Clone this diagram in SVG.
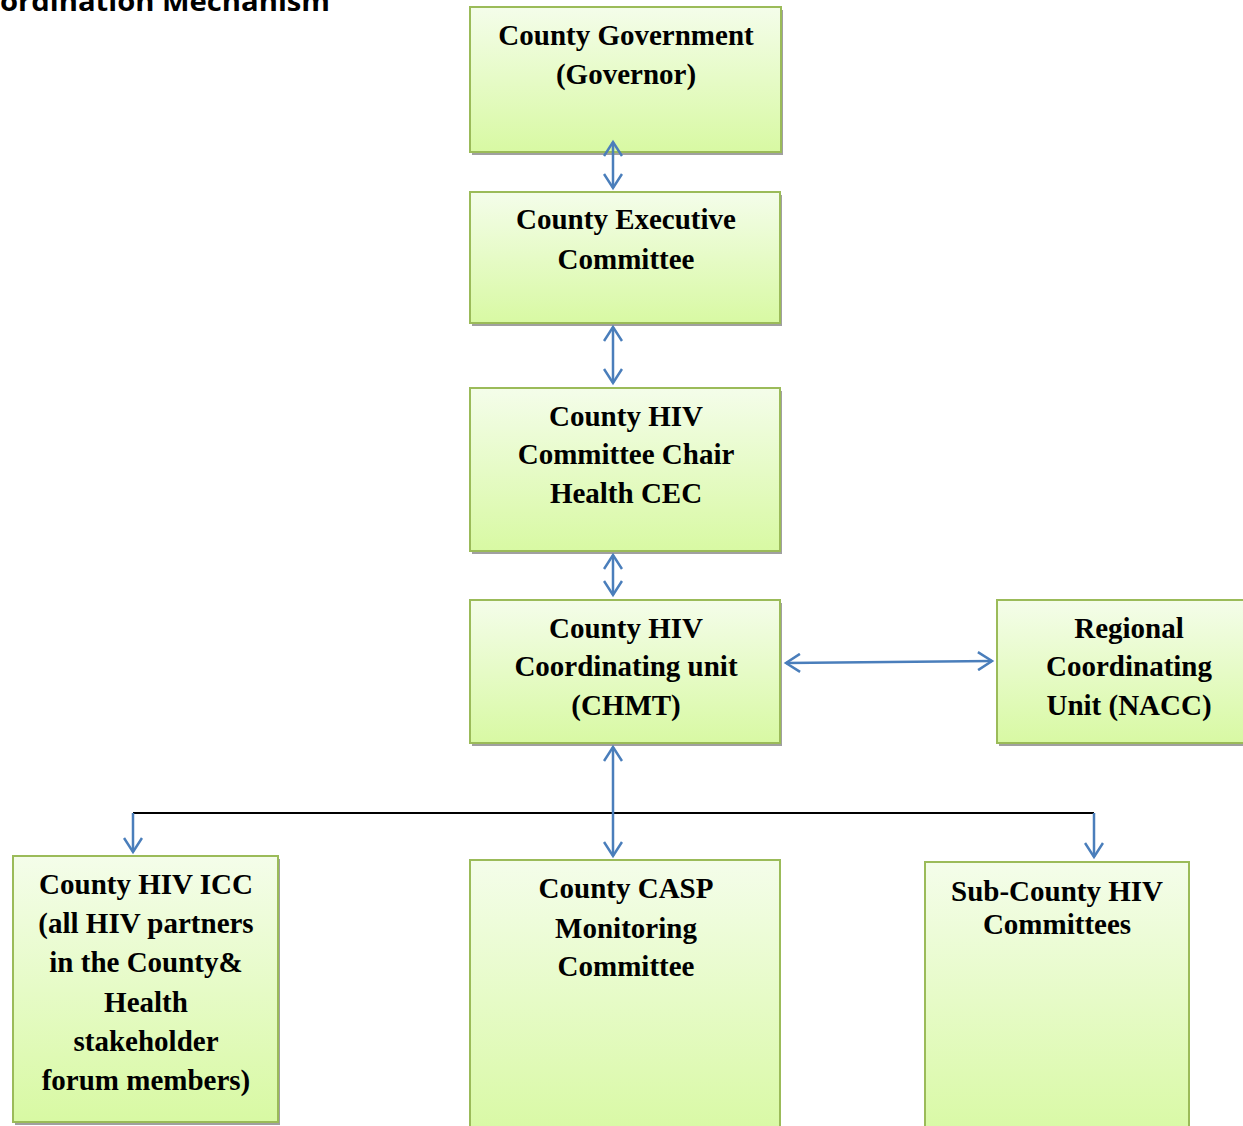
<svg xmlns="http://www.w3.org/2000/svg" width="1243" height="1126" viewBox="0 0 1243 1126">
<defs>
<linearGradient id="g" x1="0" y1="0" x2="0" y2="1">
<stop offset="0" stop-color="#f4fdea"/>
<stop offset="1" stop-color="#d8f9a3"/>
</linearGradient>
<marker id="ah" viewBox="0 0 20 20" refX="17" refY="10" markerWidth="20" markerHeight="20" markerUnits="userSpaceOnUse" orient="auto-start-reverse">
<path d="M3,1 L17,10 L3,19" fill="none" stroke="#4a7ebb" stroke-width="2.5"/>
</marker>
<style>
.box{fill:url(#g);stroke:#9bbb59;stroke-width:2}
.sh{fill:#a0a0a0}
.t{font-family:"Liberation Serif","Times New Roman",serif;font-weight:bold;font-size:29px;fill:#000;text-anchor:middle}
.c{stroke:#4a7ebb;stroke-width:2.5;fill:none}
.k{stroke:#000;stroke-width:2;fill:none}
</style>
</defs>
<rect width="1243" height="1126" fill="#fff"/>
<text x="0" y="11" font-family="'Open Sans','Noto Sans',sans-serif" font-weight="bold" font-size="27" textLength="330" lengthAdjust="spacingAndGlyphs">ordination Mechanism</text>

<g id="n1"><rect class="sh" x="472" y="10" width="311" height="145"/><rect class="box" x="470" y="7" width="311" height="145"/>
<text class="t" x="626" y="45">County Government</text><text class="t" x="626" y="84">(Governor)</text></g>

<g id="n2"><rect class="sh" x="472" y="195" width="310" height="131"/><rect class="box" x="470" y="192" width="310" height="131"/>
<text class="t" x="626" y="229">County Executive</text><text class="t" x="626" y="269">Committee</text></g>

<g id="n3"><rect class="sh" x="472" y="391" width="310" height="163"/><rect class="box" x="470" y="388" width="310" height="163"/>
<text class="t" x="626" y="426">County HIV</text><text class="t" x="626" y="464">Committee Chair</text><text class="t" x="626" y="503">Health CEC</text></g>

<g id="n4"><rect class="sh" x="472" y="603" width="310" height="143"/><rect class="box" x="470" y="600" width="310" height="143"/>
<text class="t" x="626" y="638">County HIV</text><text class="t" x="626" y="676">Coordinating unit</text><text class="t" x="626" y="715">(CHMT)</text></g>

<g id="n5"><rect class="sh" x="999" y="603" width="250" height="143"/><rect class="box" x="997" y="600" width="250" height="143"/>
<text class="t" x="1129" y="638">Regional</text><text class="t" x="1129" y="676">Coordinating</text><text class="t" x="1129" y="715">Unit (NACC)</text></g>

<g id="n6"><rect class="sh" x="15" y="859" width="265" height="266"/><rect class="box" x="13" y="856" width="265" height="266"/>
<text class="t" x="146" y="894">County HIV ICC</text><text class="t" x="146" y="933">(all HIV partners</text><text class="t" x="146" y="972">in the County&amp;</text><text class="t" x="146" y="1012">Health</text><text class="t" x="146" y="1051">stakeholder</text><text class="t" x="146" y="1090">forum members)</text></g>

<g id="n7"><rect class="box" x="470" y="860" width="310" height="280"/>
<text class="t" x="626" y="898">County CASP</text><text class="t" x="626" y="938">Monitoring</text><text class="t" x="626" y="976">Committee</text></g>

<g id="n8"><rect class="box" x="925" y="862" width="264" height="280"/>
<text class="t" x="1057" y="901">Sub-County HIV</text><text class="t" x="1057" y="934">Committees</text></g>

<g id="connectors">
<line class="c" x1="613" y1="142" x2="613" y2="188" marker-start="url(#ah)" marker-end="url(#ah)"/>
<line class="c" x1="613" y1="327" x2="613" y2="383" marker-start="url(#ah)" marker-end="url(#ah)"/>
<line class="c" x1="613" y1="555" x2="613" y2="595" marker-start="url(#ah)" marker-end="url(#ah)"/>
<line class="c" x1="786" y1="663" x2="992" y2="661" marker-start="url(#ah)" marker-end="url(#ah)"/>
<polyline class="k" points="133,813 1094,813"/>
<line class="c" x1="613" y1="747" x2="613" y2="856" marker-start="url(#ah)" marker-end="url(#ah)"/>
<line class="c" x1="133" y1="813" x2="133" y2="852" marker-end="url(#ah)"/>
<line class="c" x1="1094" y1="813" x2="1094" y2="857" marker-end="url(#ah)"/>
</g>
</svg>
